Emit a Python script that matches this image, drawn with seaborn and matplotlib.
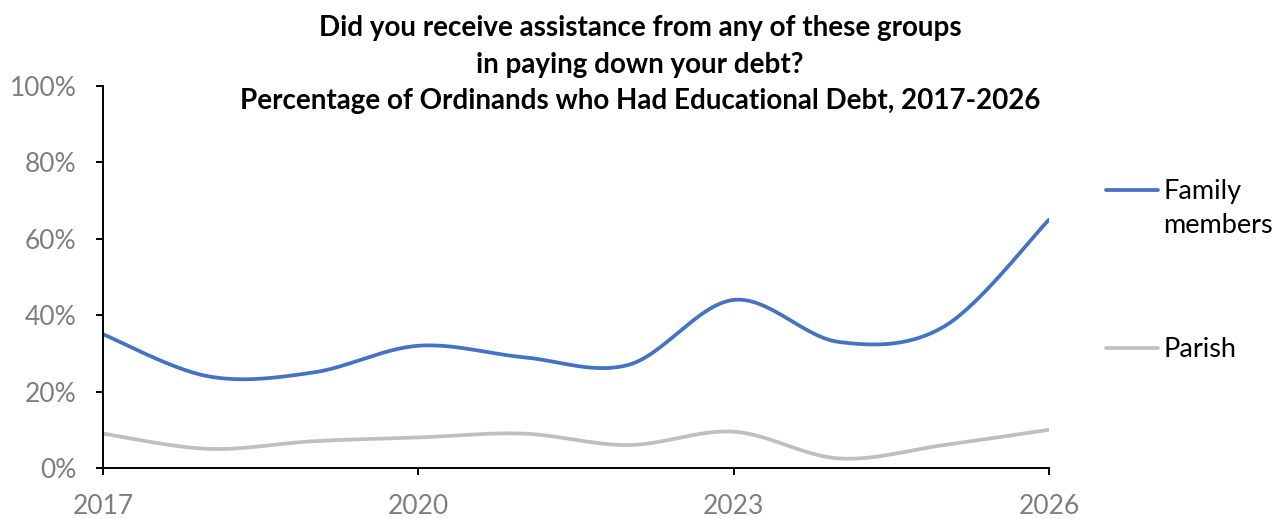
import numpy as np
import pandas as pd
import matplotlib
matplotlib.use("Agg")
import matplotlib.pyplot as plt
import seaborn as sns
from matplotlib.lines import Line2D

# --- DATA ---
years = [2017, 2018, 2019, 2020, 2021, 2022, 2023, 2024, 2025, 2026]
family = [35, 24, 25, 32, 29, 27, 44, 33, 37, 65]
parish = [9, 5, 7, 8, 9, 6, 9.5, 2.5, 6, 10]
series_names = ["Family members", "Parish"]
xtick_years = [2017, 2020, 2023, 2026]
ytick_vals = [0, 20, 40, 60, 80, 100]

title = ("Did you receive assistance from any of these groups\n"
         "in paying down your debt?\n"
         "Percentage of Ordinands who Had Educational Debt, 2017-2026")

BLUE = "#4472C4"
GRAY = "#BFBFBF"
TICK_GRAY = "#7F7F7F"


def smooth(x, y, n=30):
    # Excel-style smoothed line: cubic bezier segments, catmull-rom style handles
    x = np.asarray(x, float)
    y = np.asarray(y, float)
    pts = np.column_stack([x, y])
    out = []
    for i in range(len(pts) - 1):
        p0 = pts[max(i - 1, 0)]
        p1 = pts[i]
        p2 = pts[i + 1]
        p3 = pts[min(i + 2, len(pts) - 1)]
        c1 = p1 + (p2 - p0) / 6
        c2 = p2 - (p3 - p1) / 6
        t = np.linspace(0, 1, n)[:, None]
        seg = ((1 - t) ** 3) * p1 + 3 * ((1 - t) ** 2) * t * c1 + 3 * (1 - t) * t ** 2 * c2 + t ** 3 * p2
        out.append(seg if i == 0 else seg[1:])
    seg = np.vstack(out)
    return seg[:, 0], seg[:, 1]


sns.set_style("white")
plt.rcParams["font.family"] = ["Lato", "DejaVu Sans"]

fig = plt.figure(figsize=(12.8, 5.19), dpi=100)
ax = fig.add_axes([0.0805, 0.0983, 0.739, 0.736])

frames = []
for name, vals in zip(series_names, [family, parish]):
    sx, sy = smooth(years, vals)
    frames.append(pd.DataFrame({"year": sx, "pct": sy, "series": name}))
df = pd.concat(frames, ignore_index=True)

sns.lineplot(data=df, x="year", y="pct", hue="series", palette=[BLUE, GRAY],
             sort=False, estimator=None, linewidth=2.7, legend=False, ax=ax,
             solid_capstyle="round")

ax.set_xlim(2017, 2026)
ax.set_ylim(0, 100)
ax.set_xticks(xtick_years)
ax.set_xticklabels([str(y) for y in xtick_years])
ax.set_yticks(ytick_vals)
ax.set_yticklabels([f"{v}%" for v in ytick_vals])
ax.set_xlabel("")
ax.set_ylabel("")

for side in ["top", "right"]:
    ax.spines[side].set_visible(False)
for side in ["left", "bottom"]:
    ax.spines[side].set_color("black")
    ax.spines[side].set_linewidth(1.4)

ax.tick_params(axis="y", which="both", left=True, length=5, width=1.4, color="black",
               labelsize=19, labelcolor=TICK_GRAY, pad=14)
ax.tick_params(axis="x", which="both", bottom=True, length=5, width=1.4, color="black",
               labelsize=19, labelcolor=TICK_GRAY, pad=14)

fig.text(0.5, 1 - 15 / 519, title, ha="center", va="top", fontsize=20, fontweight="bold",
         linespacing=1.5, color="black")

# legend drawn by hand so the handle lines up with the first text line
labels = ["Family\nmembers", "Parish"]
colors = [BLUE, GRAY]
ys = [1 - 190 / 519, 1 - 348 / 519]
for lab, col, yy in zip(labels, colors, ys):
    fig.add_artist(Line2D([1106 / 1280, 1158 / 1280], [yy, yy], color=col, linewidth=2.7,
                          solid_capstyle="round", transform=fig.transFigure))
    fig.text(1163 / 1280, yy + 11 / 519, lab, ha="left", va="top", fontsize=19.5,
             color="black", linespacing=1.45)

fig.savefig("out.png", dpi=100)
